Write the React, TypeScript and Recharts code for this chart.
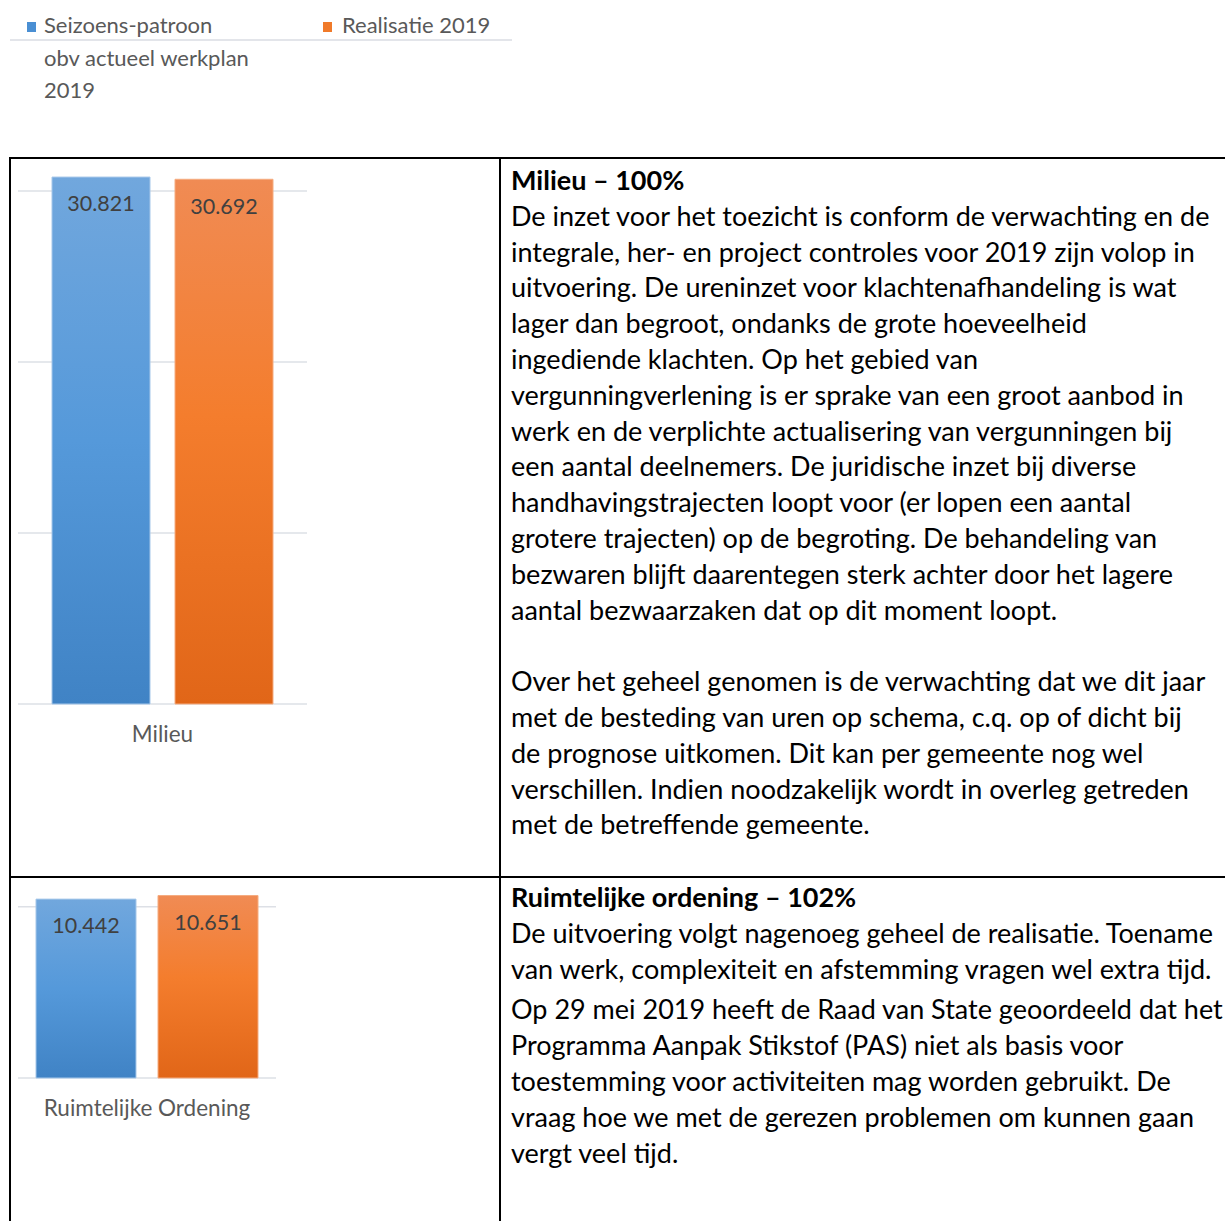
import React from 'react';
import { BarChart, Bar, XAxis, YAxis, CartesianGrid, LabelList } from 'recharts';

// legend / series names
const seriesPlan = ['Seizoens-patroon', 'obv actueel werkplan', '2019'];
const seriesReal = 'Realisatie 2019';

// Milieu
const milieuCategories = ['Milieu'];
const milieuPlan = [30821];
const milieuReal = [30692];
const milieuTicks = [0, 10000, 20000, 30000];

// Ruimtelijke Ordening
const roCategories = ['Ruimtelijke Ordening'];
const roPlan = [10442];
const roReal = [10651];
const roTicks = [0, 10000];

const milieuTitle = 'Milieu – 100%';
const milieuLines = [
  'De inzet voor het toezicht is conform de verwachting en de',
  'integrale, her- en project controles voor 2019 zijn volop in',
  'uitvoering. De ureninzet voor klachtenafhandeling is wat',
  'lager dan begroot, ondanks de grote hoeveelheid',
  'ingediende klachten. Op het gebied van',
  'vergunningverlening is er sprake van een groot aanbod in',
  'werk en de verplichte actualisering van vergunningen bij',
  'een aantal deelnemers. De juridische inzet bij diverse',
  'handhavingstrajecten loopt voor (er lopen een aantal',
  'grotere trajecten) op de begroting. De behandeling van',
  'bezwaren blijft daarentegen sterk achter door het lagere',
  'aantal bezwaarzaken dat op dit moment loopt.',
  '',
  'Over het geheel genomen is de verwachting dat we dit jaar',
  'met de besteding van uren op schema, c.q. op of dicht bij',
  'de prognose uitkomen. Dit kan per gemeente nog wel',
  'verschillen. Indien noodzakelijk wordt in overleg getreden',
  'met de betreffende gemeente.',
];

const roTitle = 'Ruimtelijke ordening – 102%';
const roLinesA = [
  'De uitvoering volgt nagenoeg geheel de realisatie. Toename',
  'van werk, complexiteit en afstemming vragen wel extra tijd.',
];
const roLinesB = [
  'Op 29 mei 2019 heeft de Raad van State geoordeeld dat het',
  'Programma Aanpak Stikstof (PAS) niet als basis voor',
  'toestemming voor activiteiten mag worden gebruikt. De',
  'vraag hoe we met de gerezen problemen om kunnen gaan',
  'vergt veel tijd.',
];

const FONT = 'Lato, "Open Sans", sans-serif';
const GREY = '#595959';

const fmt = (v: number) => String(v).replace(/\B(?=(\d{3})+(?!\d))/g, '.');

function buildRows(cats: string[], plan: number[], real: number[]) {
  return cats.map((name, i) => ({ name, plan: plan[i], real: real[i] }));
}

function SeasonChart({ id, data, width, height, margin, domain, ticks, barSize, barGap }: any) {
  return (
    <BarChart width={width} height={height} data={data} margin={margin} barSize={barSize} barGap={barGap}>
      <defs>
        <linearGradient id={`${id}-blue`} x1="0" y1="0" x2="0" y2="1">
          <stop offset="0%" stopColor="#71a7dd" />
          <stop offset="50%" stopColor="#5599da" />
          <stop offset="100%" stopColor="#4083c5" />
        </linearGradient>
        <linearGradient id={`${id}-orange`} x1="0" y1="0" x2="0" y2="1">
          <stop offset="0%" stopColor="#f08b54" />
          <stop offset="45%" stopColor="#f47d2d" />
          <stop offset="100%" stopColor="#e16618" />
        </linearGradient>
      </defs>
      <CartesianGrid vertical={false} stroke="#dde0e6" strokeWidth={1.5} />
      <XAxis
        dataKey="name"
        axisLine={false}
        tickLine={false}
        height={40}
        tickMargin={16}
        interval={0}
        tick={{ fill: GREY, fontSize: 22.5, fontFamily: FONT }}
      />
      <YAxis hide domain={domain} ticks={ticks} />
      <Bar dataKey="plan" fill={`url(#${id}-blue)`} stroke="#a6c7e9" strokeWidth={1} isAnimationActive={false}>
        <LabelList dataKey="plan" position="insideTop" offset={19} formatter={fmt} fill="#404040" fontSize={21.5} fontFamily={FONT} />
      </Bar>
      <Bar dataKey="real" fill={`url(#${id}-orange)`} stroke="#f5ac80" strokeWidth={1} isAnimationActive={false}>
        <LabelList dataKey="real" position="insideTop" offset={19} formatter={fmt} fill="#404040" fontSize={21.5} fontFamily={FONT} />
      </Bar>
    </BarChart>
  );
}

const textStyle: React.CSSProperties = {
  position: 'absolute',
  left: 511,
  fontFamily: FONT,
  fontSize: 27,
  lineHeight: '35.8px',
  color: '#000',
  whiteSpace: 'nowrap',
};

// the charts are cropped like the pasted screenshots: the plot's upper edge is cut off
const crop = (top: number, height: number, shift: number): [React.CSSProperties, React.CSSProperties] => [
  { position: 'absolute', left: 0, top, width: 330, height, overflow: 'hidden' },
  { position: 'absolute', left: 0, top: -shift },
];

export default function App() {
  const [c1Outer, c1Inner] = crop(175, 585, 15);
  const [c2Outer, c2Inner] = crop(883, 247, 13);
  return (
    <div style={{ position: 'absolute', left: 0, top: 0, width: 1225, height: 1221, overflow: 'hidden', background: '#fff' }}>
      {/* legend */}
      <div style={{ position: 'absolute', left: 10, top: 39, width: 502, height: 2, background: '#e3e5ea' }} />
      <div style={{ position: 'absolute', left: 27, top: 22, width: 9, height: 10, background: '#4a8fd3' }} />
      <div style={{ position: 'absolute', left: 323, top: 22, width: 9, height: 10, background: '#f07a2a' }} />
      <div style={{ position: 'absolute', left: 44, top: 9, fontFamily: FONT, fontSize: 22, lineHeight: '32.5px', color: GREY, whiteSpace: 'nowrap' }}>
        {seriesPlan.map((t, i) => <div key={i}>{t}</div>)}
      </div>
      <div style={{ position: 'absolute', left: 342, top: 9, fontFamily: FONT, fontSize: 22, lineHeight: '32.5px', color: GREY, whiteSpace: 'nowrap' }}>
        {seriesReal}
      </div>

      {/* table borders */}
      <div style={{ position: 'absolute', left: 9, top: 157, width: 1300, height: 2, background: '#000' }} />
      <div style={{ position: 'absolute', left: 9, top: 876, width: 1300, height: 2, background: '#000' }} />
      <div style={{ position: 'absolute', left: 9, top: 157, width: 2, height: 1100, background: '#000' }} />
      <div style={{ position: 'absolute', left: 499, top: 157, width: 2, height: 1100, background: '#000' }} />

      {/* charts */}
      <div style={c1Outer}>
        <div style={c1Inner}>
          <SeasonChart
            id="milieu"
            data={buildRows(milieuCategories, milieuPlan, milieuReal)}
            width={320}
            height={600}
            margin={{ top: 14, right: 13, left: 18, bottom: 16 }}
            domain={[0, 31000]}
            ticks={milieuTicks}
            barSize={98}
            barGap={25}
          />
        </div>
      </div>
      <div style={c2Outer}>
        <div style={c2Inner}>
          <SeasonChart
            id="ro"
            data={buildRows(roCategories, roPlan, roReal)}
            width={300}
            height={260}
            margin={{ top: 11, right: 24, left: 18, bottom: 12 }}
            domain={[0, 11500]}
            ticks={roTicks}
            barSize={100}
            barGap={22}
          />
        </div>
      </div>

      {/* text column */}
      <div style={{ ...textStyle, top: 162 }}>
        <div style={{ fontWeight: 700 }}>{milieuTitle}</div>
        {milieuLines.map((t, i) => <div key={i} style={{ height: 35.8 }}>{t}</div>)}
      </div>
      <div style={{ ...textStyle, top: 879 }}>
        <div style={{ fontWeight: 700 }}>{roTitle}</div>
        {roLinesA.map((t, i) => <div key={i}>{t}</div>)}
        <div style={{ marginTop: 5 }}>
          {roLinesB.map((t, i) => <div key={i}>{t}</div>)}
        </div>
      </div>
    </div>
  );
}
